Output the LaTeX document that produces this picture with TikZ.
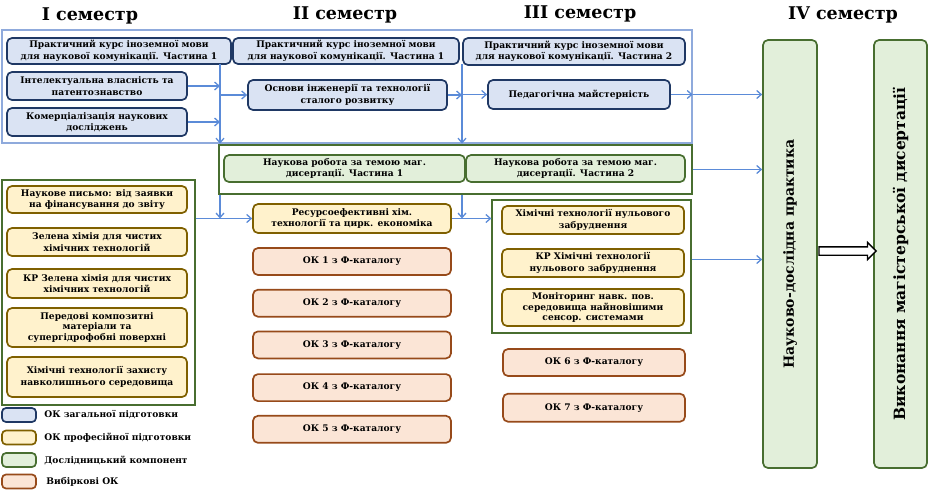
\documentclass[tikz,border=0pt]{standalone}
\usepackage{fontspec}
\setmainfont{DejaVu Serif}
\usetikzlibrary{positioning,arrows.meta,calc,shapes.arrows}
\definecolor{navy}{RGB}{31,56,100}
\definecolor{paleblue}{RGB}{218,227,243}
\definecolor{gold}{RGB}{127,96,0}
\definecolor{paleyellow}{RGB}{255,242,204}
\definecolor{forest}{RGB}{72,110,48}
\definecolor{palegreen}{RGB}{226,239,218}
\definecolor{rust}{RGB}{151,74,26}
\definecolor{palepeach}{RGB}{251,229,214}
\definecolor{linkblue}{RGB}{91,139,216}
\definecolor{frameblue}{RGB}{143,170,220}

\begin{document}
\begin{tikzpicture}[x=1pt, y=-1pt,
  course/.style={draw, rounded corners=5pt, line width=1.7pt, align=center,
    font=\bfseries\fontsize{9.1}{11.5}\selectfont, inner sep=1pt},
  threeline/.style={font=\bfseries\fontsize{9.1}{10.6}\selectfont},
  genbox/.style={course, draw=navy, fill=paleblue},
  profbox/.style={course, draw=gold, fill=paleyellow},
  resbox/.style={course, draw=forest, fill=palegreen},
  electbox/.style={course, draw=rust, fill=palepeach},
  frame/.style={draw, line width=1.3pt, inner sep=0pt},
  semtitle/.style={font=\bfseries\fontsize{17.5}{20}\selectfont},
  conn/.style={draw=linkblue, line width=1.3pt, -{Straight Barb[length=4.5pt,width=8pt]}},
  keytext/.style={anchor=west, font=\bfseries\fontsize{9.1}{11}\selectfont}
]
\useasboundingbox (0,0) rectangle (928,493);

% semester titles
\node[semtitle] (S1) at (90,16) {I семестр};
\node[semtitle] (S2) at (345,15) {II семестр};
\node[semtitle] (S3) at (580,14) {III семестр};
\node[semtitle] (S4) at (843,15) {IV семестр};

% frames
\node[frame, draw=frameblue, minimum width=690pt, minimum height=113pt] (genf) at (347,86.5) {};
\node[frame, draw=forest, minimum width=473pt, minimum height=49pt] (resf) at (455.5,169.5) {};
\node[frame, draw=forest, minimum width=193pt, minimum height=225pt] (proff) at (98.5,292.5) {};
\node[frame, draw=forest, minimum width=199pt, minimum height=133pt] (thirdf) at (591.5,266.5) {};

% general courses
\node[genbox, minimum width=224pt, minimum height=26pt] (LG1) at (119,51) {Практичний курс іноземної мови\\для наукової комунікації. Частина 1};
\node[genbox, minimum width=226pt, minimum height=26pt] (LG2) at (346,51) {Практичний курс іноземної мови\\для наукової комунікації. Частина 1};
\node[genbox, minimum width=222pt, minimum height=27pt] (LG3) at (574,51.5) {Практичний курс іноземної мови\\для наукової комунікації. Частина 2};
\node[genbox, minimum width=180pt, minimum height=28pt] (IP) at (97,86) {Інтелектуальна власність та\\патентознавство};
\node[genbox, minimum width=180pt, minimum height=28pt] (COM) at (97,122) {Комерціалізація наукових\\досліджень};
\node[genbox, minimum width=199pt, minimum height=30pt] (ENG) at (347.5,95) {Основи інженерії та технології\\сталого розвитку};
\node[genbox, minimum width=182pt, minimum height=29pt] (PED) at (579,94.5) {Педагогічна майстерність};

% research work
\node[resbox, minimum width=241pt, minimum height=27pt] (RW1) at (344.5,168.5) {Наукова робота за темою маг.\\дисертації. Частина 1};
\node[resbox, minimum width=219pt, minimum height=27pt] (RW2) at (575.5,168.5) {Наукова робота за темою маг.\\дисертації. Частина 2};

% professional courses, semester I
\node[profbox, minimum width=180pt, minimum height=27pt] (P1) at (97,199.5) {Наукове письмо: від заявки\\на фінансування до звіту};
\node[profbox, minimum width=180pt, minimum height=28pt] (P2) at (97,242) {Зелена хімія для чистих\\хімічних технологій};
\node[profbox, minimum width=180pt, minimum height=29pt] (P3) at (97,283.5) {КР Зелена хімія для чистих\\хімічних технологій};
\node[profbox, threeline, minimum width=180pt, minimum height=39pt] (P4) at (97,327.5) {Передові композитні\\матеріали та\\супергідрофобні поверхні};
\node[profbox, minimum width=180pt, minimum height=40pt] (P5) at (97,377) {Хімічні технології захисту\\навколишнього середовища};

% semester II
\node[profbox, minimum width=198pt, minimum height=29pt] (RES) at (352,218.5) {Ресурсоефективні хім.\\технології та цирк. економіка};
\node[electbox, minimum width=198pt, minimum height=27pt] (OK1) at (352,261.5) {ОК 1 з Ф-каталогу};
\node[electbox, minimum width=198pt, minimum height=27pt, below=13pt of OK1] (OK2) {ОК 2 з Ф-каталогу};
\node[electbox, minimum width=198pt, minimum height=27pt, below=13pt of OK2] (OK3) {ОК 3 з Ф-каталогу};
\node[electbox, minimum width=198pt, minimum height=27pt, below=14pt of OK3] (OK4) {ОК 4 з Ф-каталогу};
\node[electbox, minimum width=198pt, minimum height=27pt, below=13pt of OK4] (OK5) {ОК 5 з Ф-каталогу};

% semester III
\node[profbox, minimum width=182pt, minimum height=28pt] (T1) at (593,220) {Хімічні технології нульового\\забруднення};
\node[profbox, minimum width=182pt, minimum height=28pt] (T2) at (593,263) {КР Хімічні технології\\нульового забруднення};
\node[profbox, threeline, minimum width=182pt, minimum height=37pt] (T3) at (593,307.5) {Моніторинг навк. пов.\\середовища найновішими\\сенсор. системами};
\node[electbox, minimum width=182pt, minimum height=27pt] (OK6) at (594,362.5) {ОК 6 з Ф-каталогу};
\node[electbox, minimum width=182pt, minimum height=28pt, below=16pt of OK6] (OK7) {ОК 7 з Ф-каталогу};

% semester IV
\node[resbox, minimum width=54pt, minimum height=428pt, font=\bfseries\fontsize{14}{16}\selectfont] (PRAC) at (790,254) {\rotatebox{90}{Науково-дослідна практика}};
\node[resbox, minimum width=53pt, minimum height=428pt, font=\bfseries\fontsize{15.5}{17}\selectfont] (DISS) at (900.5,254) {\rotatebox{90}{Виконання магістерської дисертації}};
\node[single arrow, draw, line width=1.3pt, fill=white, inner sep=3.5pt,
  single arrow head extend=4.5pt, minimum height=57pt] (FAT) at ($(PRAC.east)!0.5!(DISS.west)+(0,-3)$) {};

% connectors
\coordinate (J1) at (220,64);
\coordinate (J2) at (462,64);
\draw[conn] (J1) -- (J1 |- genf.south);
\draw[conn] (J2) -- (J2 |- genf.south);
\draw[conn] (IP.east) -- (IP.east -| J1);
\draw[conn] (COM.east) -- (COM.east -| J1);
\draw[conn] (J1 |- ENG.west) -- (ENG.west);
\draw[conn] (ENG.east) -- (ENG.east -| J2);
\draw[conn] (J2 |- PED.west) -- (PED.west);
\draw[conn] (PED.east) -- (PED.east -| genf.east);
\draw[conn] (PED.east -| genf.east) -- (PED.east -| PRAC.west);
\draw[conn] (resf.east) -- (resf.east -| PRAC.west);
\draw[conn] ([yshift=7pt]thirdf.east) -- ([yshift=7pt]thirdf.east -| PRAC.west);
\draw[conn] (proff.east |- RES.west) -- (RES.west);
\draw[conn] (J1 |- resf.south) -- (J1 |- RES.west);
\draw[conn] (RES.east) -- (RES.east -| thirdf.west);
\draw[conn] (J2 |- resf.south) -- (J2 |- RES.east);

% legend
\node[genbox, minimum width=34pt, minimum height=14pt, rounded corners=4pt] (K1) at (19,415) {};
\node[profbox, minimum width=34pt, minimum height=14pt, rounded corners=4pt] (K2) at (19,437.5) {};
\node[resbox, minimum width=34pt, minimum height=14pt, rounded corners=4pt] (K3) at (19,460) {};
\node[electbox, minimum width=34pt, minimum height=14pt, rounded corners=4pt] (K4) at (19,481.5) {};
\node[keytext, right=4pt of K1] (K1t) {ОК загальної підготовки};
\node[keytext, right=4pt of K2] (K2t) {ОК професійної підготовки};
\node[keytext, right=4pt of K3] (K3t) {Дослідницький компонент};
\node[keytext, right=6pt of K4] (K4t) {Вибіркові ОК};
\end{tikzpicture}
\end{document}
